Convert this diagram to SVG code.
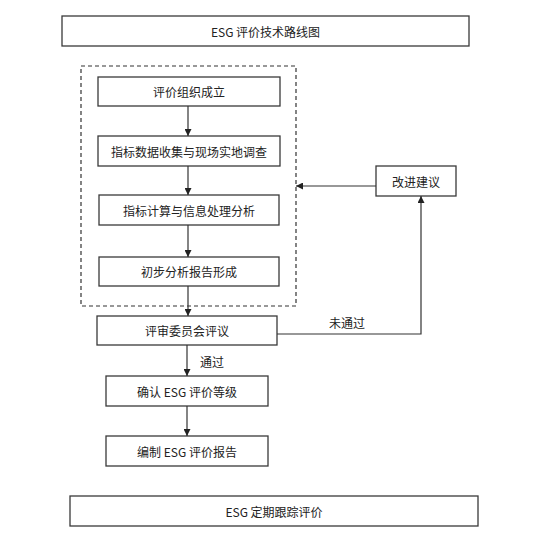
<svg xmlns="http://www.w3.org/2000/svg" width="554" height="547" viewBox="0 0 554 547">
<style>
.box{fill:#fff;stroke:#3a3a3a;stroke-width:1.3}
.t{font-family:"Noto Sans CJK SC","Liberation Sans",sans-serif;font-size:12px;fill:#222;text-anchor:middle;dominant-baseline:central}
.ln{fill:none;stroke:#333;stroke-width:1.2}
</style>
<defs>
<marker id="ah" viewBox="0 0 10 10" refX="10" refY="5" markerWidth="7" markerHeight="7" orient="auto" markerUnits="userSpaceOnUse">
<path d="M0,0 L10,5 L0,10 z" fill="#222"/>
</marker>
</defs>
<rect width="554" height="547" fill="#fff"/>
<g id="title"><rect class="box" x="62" y="16" width="407" height="30"/><text class="t" x="265.5" y="31">ESG 评价技术路线图</text></g>
<g id="group-box"><rect x="81" y="66" width="215" height="240" fill="none" stroke="#333" stroke-width="1.2" stroke-dasharray="4,3"/></g>
<g id="n1"><rect class="box" x="98" y="77" width="182" height="29"/><text class="t" x="189" y="91.5">评价组织成立</text></g>
<g id="n2"><rect class="box" x="98" y="136" width="182" height="30"/><text class="t" x="189" y="151">指标数据收集与现场实地调查</text></g>
<g id="n3"><rect class="box" x="99" y="195" width="180" height="30"/><text class="t" x="189" y="210">指标计算与信息处理分析</text></g>
<g id="n4"><rect class="box" x="99" y="257" width="180" height="29"/><text class="t" x="189" y="271.5">初步分析报告形成</text></g>
<g id="n5"><rect class="box" x="97" y="316" width="180" height="29"/><text class="t" x="187" y="330.5">评审委员会评议</text></g>
<g id="n6"><rect class="box" x="106" y="376" width="162" height="30"/><text class="t" x="187" y="391">确认 ESG 评价等级</text></g>
<g id="n7"><rect class="box" x="106" y="436" width="162" height="30"/><text class="t" x="187" y="451">编制 ESG 评价报告</text></g>
<g id="n8"><rect class="box" x="376" y="166" width="80" height="30"/><text class="t" x="416" y="181">改进建议</text></g>
<g id="bottom"><rect class="box" x="70" y="496" width="408" height="30"/><text class="t" x="274" y="511">ESG 定期跟踪评价</text></g>
<g id="connectors">
<line class="ln" x1="188" y1="106" x2="188" y2="136" marker-end="url(#ah)"/>
<line class="ln" x1="188" y1="166" x2="188" y2="195" marker-end="url(#ah)"/>
<line class="ln" x1="188" y1="225" x2="188" y2="257" marker-end="url(#ah)"/>
<line class="ln" x1="188" y1="286" x2="188" y2="316" marker-end="url(#ah)"/>
<line class="ln" x1="187" y1="345" x2="187" y2="376" marker-end="url(#ah)"/>
<line class="ln" x1="187" y1="406" x2="187" y2="436" marker-end="url(#ah)"/>
<polyline class="ln" points="277,334 421,334 421,196" marker-end="url(#ah)" stroke="#555"/>
<line class="ln" x1="376" y1="186" x2="296" y2="186" marker-end="url(#ah)"/>
<text class="t" x="347" y="322">未通过</text>
<text class="t" x="212" y="361">通过</text>
</g>
</svg>
